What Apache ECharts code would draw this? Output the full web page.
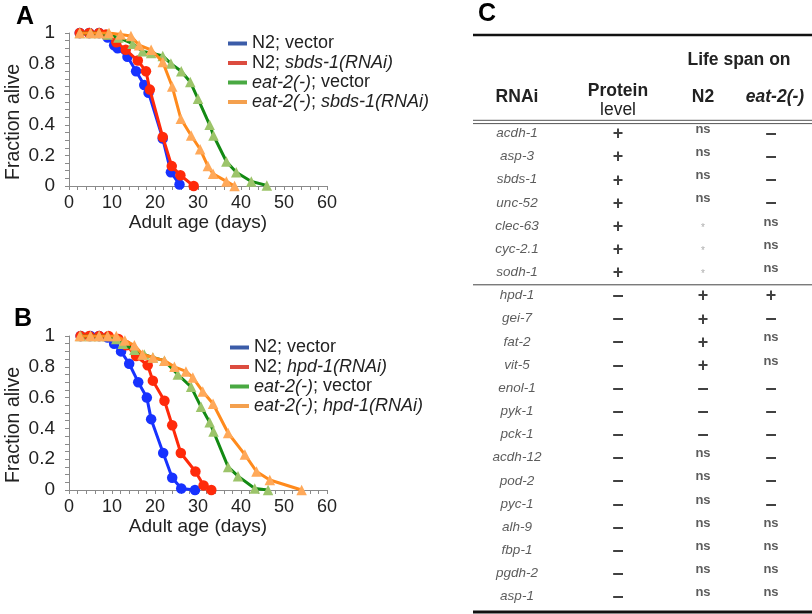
<!DOCTYPE html>
<html><head><meta charset="utf-8">
<script src="https://cdn.jsdelivr.net/npm/echarts@6/dist/echarts.min.js"></script>
<style>html,body{margin:0;padding:0;background:#fff}#c{width:812px;height:614px}</style>
</head><body><div id="c"></div>
<script>
// ---------- Panel A data ----------
const aN2VecDays = [2.5, 4.7, 7, 9, 10.5, 11.3, 13.6, 15.6, 17.5, 18.5, 21.8, 23.7, 25.7];
const aN2VecVals = [1, 1, 1, 0.97, 0.92, 0.90, 0.845, 0.75, 0.66, 0.61, 0.31, 0.09, 0.01];
const aN2RnaiDays = [2.5, 4.7, 7, 8.6, 11, 13.2, 16, 17.9, 18.8, 21.8, 23.9, 25.9, 29];
const aN2RnaiVals = [1, 1, 1, 0.99, 0.94, 0.89, 0.82, 0.75, 0.63, 0.32, 0.13, 0.07, 0];
const aEatVecDays = [2.5, 5, 7, 9, 11.5, 14.8, 17.1, 19.1, 21.8, 23.7, 26.1, 28.2, 30, 32.7, 33.6, 36.6, 38.9, 42.4, 46];
const aEatVecVals = [1, 1, 1, 0.99, 0.97, 0.93, 0.88, 0.87, 0.85, 0.80, 0.75, 0.68, 0.57, 0.40, 0.33, 0.16, 0.09, 0.03, 0.003];
const aEatRnaiDays = [2.5, 5, 7, 9.3, 12, 14.4, 16.3, 19.1, 21.8, 24, 26, 28.4, 30.5, 32.3, 33.5, 36.6, 38.5];
const aEatRnaiVals = [1, 1, 1, 1, 0.99, 0.98, 0.92, 0.89, 0.81, 0.65, 0.44, 0.33, 0.24, 0.13, 0.08, 0.03, 0];
// ---------- Panel B data ----------
const bN2VecDays = [2.7, 5, 7, 9, 10.5, 12.1, 14, 16.1, 18.1, 19.1, 21.9, 24, 26.1, 29.3];
const bN2VecVals = [1, 1, 1, 0.99, 0.95, 0.90, 0.82, 0.70, 0.60, 0.46, 0.24, 0.08, 0.01, 0];
const bN2RnaiDays = [2.7, 4.7, 7, 9.2, 11.5, 13.3, 15.6, 18.3, 19.5, 22.2, 24, 26, 29.4, 31.3, 33.1];
const bN2RnaiVals = [1, 1, 1, 1, 0.98, 0.94, 0.87, 0.81, 0.71, 0.58, 0.42, 0.24, 0.12, 0.03, 0];
const bEatVecDays = [2.7, 5, 7, 9, 11, 12.5, 15.2, 17.5, 19.5, 22.2, 25.3, 28.4, 30.7, 32.7, 33.6, 37, 39.3, 43.2, 46.3];
const bEatVecVals = [1, 1, 1, 1, 0.98, 0.95, 0.91, 0.88, 0.86, 0.84, 0.75, 0.67, 0.54, 0.44, 0.38, 0.15, 0.09, 0.01, 0];
const bEatRnaiDays = [2.5, 5, 7, 9, 11, 13, 15.2, 17.1, 19.5, 22.2, 24.5, 27.2, 28.8, 31.1, 33.5, 37, 40.9, 43.6, 46.7, 54.1];
const bEatRnaiVals = [1, 1, 1, 1, 1, 0.97, 0.94, 0.88, 0.86, 0.84, 0.80, 0.77, 0.73, 0.64, 0.56, 0.37, 0.23, 0.12, 0.065, 0];

const seriesNamesA = ['N2; vector', 'N2; sbds-1(RNAi)', 'eat-2(-); vector', 'eat-2(-); sbds-1(RNAi)'];
const seriesNamesB = ['N2; vector', 'N2; hpd-1(RNAi)', 'eat-2(-); vector', 'eat-2(-); hpd-1(RNAi)'];

// ---------- Panel C table ----------
const tableRows = ['acdh-1','asp-3','sbds-1','unc-52','clec-63','cyc-2.1','sodh-1','hpd-1','gei-7','fat-2','vit-5','enol-1','pyk-1','pck-1','acdh-12','pod-2','pyc-1','alh-9','fbp-1','pgdh-2','asp-1'];
const proteinLevel = ['+','+','+','+','+','+','+','-','-','-','-','-','-','-','-','-','-','-','-','-','-'];
const lifespanN2 = ['ns','ns','ns','ns','*','*','*','+','+','+','+','-','-','-','ns','ns','ns','ns','ns','ns','ns'];
const lifespanEat2 = ['-','-','-','-','ns','ns','ns','+','-','ns','ns','-','-','-','-','-','-','ns','ns','ns','ns'];

const FONT = "Arial, 'Liberation Sans', sans-serif";
const lineColors = ['#1732ff', '#ff2a0a', '#138a13', '#ff8a1c'];
const markColors = ['#1732ff', '#ff2a0a', '#9cc46a', '#ffa95a'];
const legendColors = ['#3b5ca8', '#dc4c3f', '#49a942', '#f4a04e'];
const symbols = ['circle', 'circle', 'triangle', 'triangle'];

const chart = echarts.init(document.getElementById('c'), null, {renderer: 'canvas'});

function pairs(d, v) { return d.map((x, i) => [x, v[i]]); }

function legendFmt(name) {
  const m = name.match(/^(N2|eat-2\(-\));\s(.*)$/);
  let a = m[1] === 'N2' ? 'N2' : '{i|' + m[1] + '}';
  let b = m[2] === 'vector' ? 'vector' : '{i|' + m[2] + '}';
  return a + '; ' + b;
}

const plotGrids = [
  {left: 69, right: 485, top: 33, bottom: 428},
  {left: 69, right: 485, top: 336, bottom: 124}
];

function xAx(gi) {
  return {
    type: 'value', gridIndex: gi, min: 0, max: 60, interval: 10,
    axisLine: {show: true, lineStyle: {color: '#8a8a8a', width: 1}},
    axisTick: {show: true, length: 4, lineStyle: {color: '#8a8a8a'}},
    minorTick: {show: true, splitNumber: 5, length: 4, lineStyle: {color: '#8a8a8a'}},
    splitLine: {show: false}, minorSplitLine: {show: false},
    axisLabel: {fontSize: 18, color: '#222', fontFamily: FONT, margin: 8},
    name: 'Adult age (days)', nameLocation: 'middle', nameGap: 26,
    nameTextStyle: {fontSize: 19, color: '#222', fontFamily: FONT}
  };
}
function yAx(gi) {
  return {
    type: 'value', gridIndex: gi, min: 0, max: 1, interval: 0.2,
    axisLine: {show: true, lineStyle: {color: '#8a8a8a', width: 1}},
    axisTick: {show: true, length: 4, lineStyle: {color: '#8a8a8a'}},
    minorTick: {show: true, splitNumber: 4, length: 4, lineStyle: {color: '#8a8a8a'}},
    splitLine: {show: false}, minorSplitLine: {show: false},
    axisLabel: {fontSize: 19, color: '#222', fontFamily: FONT, margin: 14}
  };
}

function mkSeries(gi, names, dataSets) {
  return dataSets.map((ds, k) => ({
    type: 'line', name: names[k], xAxisIndex: gi, yAxisIndex: gi,
    data: pairs(ds[0], ds[1]),
    symbol: symbols[k], symbolSize: 10.5,
    showAllSymbol: true,
    lineStyle: {color: lineColors[k], width: 3},
    itemStyle: {color: markColors[k], borderWidth: 0},
    emphasis: {disabled: true},
    z: 2 + k, animation: false
  }));
}

const seriesA = mkSeries(0, seriesNamesA, [[aN2VecDays, aN2VecVals], [aN2RnaiDays, aN2RnaiVals], [aEatVecDays, aEatVecVals], [aEatRnaiDays, aEatRnaiVals]]);
const seriesB = mkSeries(1, seriesNamesB, [[bN2VecDays, bN2VecVals], [bN2RnaiDays, bN2RnaiVals], [bEatVecDays, bEatVecVals], [bEatRnaiDays, bEatRnaiVals]]);

function mkLegend(names, left, top) {
  return {
    left: left, top: top, orient: 'vertical', itemGap: 0.5, itemWidth: 19, itemHeight: 4,
    itemTextGap: 8, icon: 'rect', selectedMode: false,
    data: names.map((n, k) => ({name: n, itemStyle: {color: legendColors[k]}, lineStyle: {color: legendColors[k]}})),
    formatter: legendFmt,
    textStyle: {fontSize: 18, color: '#222', fontFamily: FONT, lineHeight: 19,
      rich: {i: {fontStyle: 'italic', fontSize: 18, color: '#222', fontFamily: FONT, lineHeight: 19}}}
  };
}

// ----- Table grids: one narrow grid per column, rows on a category axis -----
const colCenters = [517, 618, 703, 775];
const tableCols = [tableRows, proteinLevel, lifespanN2, lifespanEat2];
const tableTop = 121.7, tableHeight = 486.6;
const tableGrids = colCenters.map(c => ({left: c - 45, width: 90, top: tableTop, height: tableHeight}));

function cellLabel(col, txt) {
  if (col === 0) return {formatter: txt, fontSize: 13.5, fontStyle: 'italic', color: '#333', offset: [0, 0]};
  if (txt === '+') return {formatter: '+', fontSize: 18, fontWeight: 'bold', color: '#111', offset: [0, 1]};
  if (txt === '-') return {formatter: '\u2013', fontSize: 20, fontWeight: 'bold', color: '#111', offset: [0, 0]};
  if (txt === 'ns') return {formatter: 'ns', fontSize: 13, fontWeight: 'bold', color: '#333', offset: [0, -4]};
  return {formatter: '*', fontSize: 10, color: '#999', offset: [0, 2]};
}

const tableXAxes = colCenters.map((c, i) => ({type: 'value', gridIndex: 2 + i, min: -1, max: 1, show: false}));
const tableYAxes = colCenters.map((c, i) => ({type: 'category', gridIndex: 2 + i, data: tableRows, inverse: true, show: false}));
const tableSeries = tableCols.map((arr, ci) => ({
  type: 'scatter', xAxisIndex: 2 + ci, yAxisIndex: 2 + ci,
  symbol: 'circle', symbolSize: 1, itemStyle: {color: 'rgba(0,0,0,0)'},
  silent: true, animation: false,
  data: arr.map((t, ri) => {
    const l = cellLabel(ci, t);
    return {value: [0, ri], label: Object.assign({show: true, position: 'inside', fontFamily: FONT}, l)};
  })
}));

// headers / rules of table (layout decorations)
const headerStyle = {fontFamily: FONT, fontSize: 17.5, fontWeight: 'bold', fill: '#222', align: 'center', verticalAlign: 'middle'};
function txt(x, y, text, extra) {
  return {type: 'text', x: x, y: y, style: Object.assign({}, headerStyle, {text: text}, extra || {}), silent: true};
}
function hline(y, w, color) {
  return {type: 'line', shape: {x1: 473, y1: y, x2: 812, y2: y}, style: {stroke: color || '#111', lineWidth: w}, silent: true};
}

const graphics = [
  txt(25, 17, 'A', {fontSize: 25, fill: '#000'}),
  txt(23, 319, 'B', {fontSize: 25, fill: '#000'}),
  txt(487, 14, 'C', {fontSize: 25, fill: '#000'}),
  {type: 'text', x: 14, y: 122, rotation: Math.PI / 2,
   style: {text: 'Fraction alive', fontFamily: FONT, fontSize: 19.5, fill: '#222', align: 'center', verticalAlign: 'middle'}, silent: true},
  {type: 'text', x: 14, y: 425, rotation: Math.PI / 2,
   style: {text: 'Fraction alive', fontFamily: FONT, fontSize: 19.5, fill: '#222', align: 'center', verticalAlign: 'middle'}, silent: true},
  hline(35, 2.5),
  hline(120.3, 1, '#555'),
  hline(123.6, 1, '#555'),
  hline(284.8, 1, '#444'),
  hline(612, 3),
  txt(739, 60, 'Life span on'),
  txt(517, 97.5, 'RNAi'),
  txt(618, 91.5, 'Protein'),
  txt(618, 110, 'level', {fontWeight: 'normal'}),
  txt(703, 97.5, 'N2'),
  txt(775, 97.5, 'eat-2(-)', {fontStyle: 'italic'})
];

chart.setOption({
  backgroundColor: '#fff',
  animation: false,
  grid: plotGrids.concat(tableGrids),
  xAxis: [xAx(0), xAx(1)].concat(tableXAxes),
  yAxis: [yAx(0), yAx(1)].concat(tableYAxes),
  legend: [mkLegend(seriesNamesA, 223, 29), mkLegend(seriesNamesB, 225, 333)],
  series: seriesA.concat(seriesB).concat(tableSeries),
  graphic: graphics
});
</script></body></html>
